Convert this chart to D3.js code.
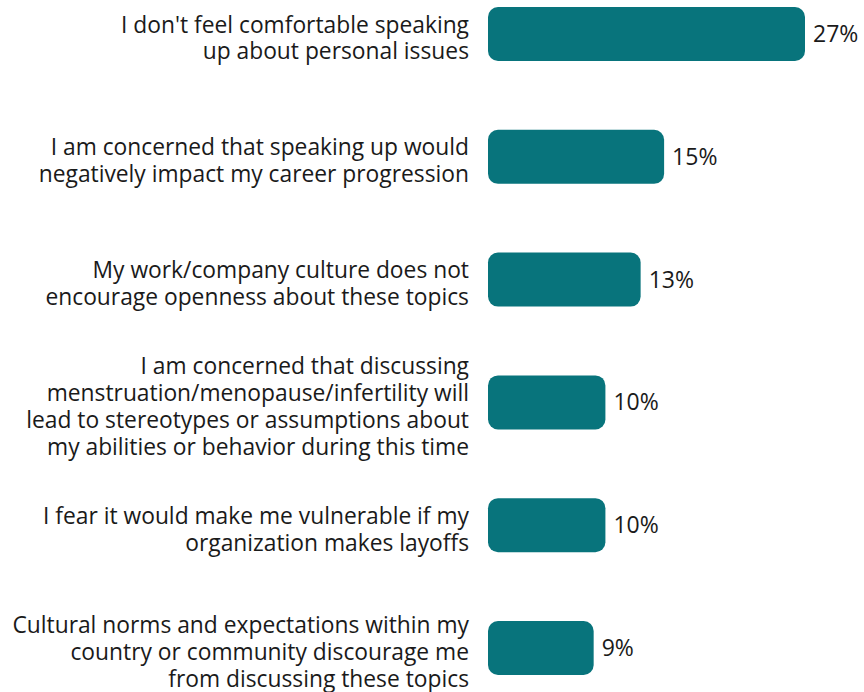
<!DOCTYPE html>
<html>
<head>
<meta charset="utf-8">
<script src="https://cdn.jsdelivr.net/npm/d3@7/dist/d3.min.js"></script>
<style>
  html, body { margin: 0; padding: 0; background: #ffffff; }
  svg { display: block; }
  text { font-family: "Open Sans", "Noto Sans", sans-serif; fill: #1a1a1a; }
</style>
</head>
<body>
<svg id="chart" width="864" height="692"></svg>
<script>
const categories = [
  ["I don't feel comfortable speaking", "up about personal issues"],
  ["I am concerned that speaking up would", "negatively impact my career progression"],
  ["My work/company culture does not", "encourage openness about these topics"],
  ["I am concerned that discussing", "menstruation/menopause/infertility will", "lead to stereotypes or assumptions about", "my abilities or behavior during this time"],
  ["I fear it would make me vulnerable if my", "organization makes layoffs"],
  ["Cultural norms and expectations within my", "country or community discourage me", "from discussing these topics"]
];
const values = [27, 15, 13, 10, 10, 9];
const valueLabels = ["27%", "15%", "13%", "10%", "10%", "9%"];

const svg = d3.select("#chart");
const idx = d3.range(values.length);

const y = d3.scaleBand().domain(idx).range([7, 675]).paddingInner(0.56).paddingOuter(0);
const x = d3.scaleLinear().domain([0, 27]).range([488, 805]);

const g = svg.append("g");

g.selectAll("rect.bar").data(idx).enter().append("rect")
  .attr("class", "bar")
  .attr("x", x(0))
  .attr("y", i => y(i))
  .attr("width", i => x(values[i]) - x(0))
  .attr("height", y.bandwidth())
  .attr("rx", 10).attr("ry", 10)
  .attr("fill", "#08747c");

g.selectAll("text.val").data(idx).enter().append("text")
  .attr("class", "val")
  .attr("x", i => x(values[i]) + 8)
  .attr("y", i => y(i) + y.bandwidth() / 2)
  .attr("dy", "0.35em")
  .attr("font-size", 23)
  .text(i => valueLabels[i]);

const lineH = 26.8;
const lab = g.selectAll("text.cat").data(idx).enter().append("text")
  .attr("class", "cat")
  .attr("text-anchor", "end")
  .attr("font-size", 22.8)
  .attr("x", 469)
  .attr("y", i => y(i) + y.bandwidth() / 2 + 4.5);

lab.each(function(i) {
  const lines = categories[i];
  const n = lines.length;
  d3.select(this).selectAll("tspan").data(lines).enter().append("tspan")
    .attr("x", 469)
    .attr("dy", (d, k) => k === 0 ? (-(n - 1) / 2 * lineH + 7.5) + "px" : lineH + "px")
    .text(d => d);
});
</script>
</body>
</html>
